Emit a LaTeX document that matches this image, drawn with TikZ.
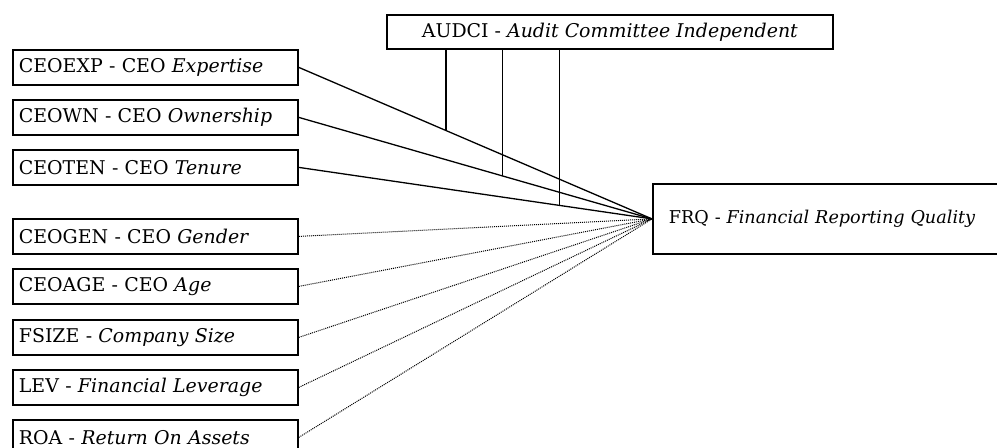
\documentclass[tikz,border=0pt]{standalone}
\usepackage{fontspec}
\setmainfont{DejaVu Serif}
\usetikzlibrary{calc}
\tikzset{
  lbox/.style={draw, line width=1.8bp, rectangle, anchor=north west, minimum width=285bp, minimum height=35bp, text width=273bp, inner xsep=6bp, inner ysep=0bp, align=left, font=\fontsize{19}{22}\selectfont},
  topbox/.style={draw, line width=1.8bp, rectangle, anchor=north west, minimum width=446bp, minimum height=34bp, inner ysep=0bp, align=center, font=\fontsize{19}{22}\selectfont},
  frqbox/.style={draw, line width=1.8bp, rectangle, anchor=north west, minimum width=380bp, minimum height=70bp, text width=348bp, inner xsep=16bp, inner ysep=0bp, align=left, font=\fontsize{17.7}{21}\selectfont},
  solidlink/.style={line width=1.3bp},
  dotlink/.style={line width=1bp, densely dotted},
}
\begin{document}
\begin{tikzpicture}[x=1bp,y=-1bp]
\useasboundingbox (0,0) rectangle (997,448);
\node[topbox] (audci) at (386,14) {AUDCI - \textit{Audit Committee Independent}};
\node[frqbox] (frq) at (652,183) {FRQ - \textit{Financial Reporting Quality}};
\node[lbox] (exp) at (12,49) {CEOEXP - CEO \textit{Expertise}};
\node[lbox] (own) at (12,99) {CEOWN - CEO \textit{Ownership}};
\node[lbox] (ten) at (12,149) {CEOTEN - CEO \textit{Tenure}};
\node[lbox] (gen) at (12,218) {CEOGEN - CEO \textit{Gender}};
\node[lbox] (age) at (12,268) {CEOAGE - CEO \textit{Age}};
\node[lbox] (fsize) at (12,319) {FSIZE - \textit{Company Size}};
\node[lbox] (lev) at (12,369) {LEV - \textit{Financial Leverage}};
\node[lbox] (roa) at (12,419) {ROA - \textit{Return On Assets}};
\draw[solidlink] (exp.east) -- (frq.west);
\draw[solidlink] (own.east) -- (frq.west);
\draw[solidlink] (ten.east) -- (frq.west);
\foreach \n in {gen,age,fsize,lev,roa} \draw[dotlink] (\n.east) -- (frq.west);
\coordinate (m1) at ($(exp.east)!0.4169!(frq.west)$);
\coordinate (m2) at ($(own.east)!0.5775!(frq.west)$);
\coordinate (m3) at ($(ten.east)!0.7380!(frq.west)$);
\draw[solidlink] (m1 |- audci.south) -- (m1);
\draw[solidlink] (m2 |- audci.south) -- (m2);
\draw[solidlink] (m3 |- audci.south) -- (m3);
\end{tikzpicture}
\end{document}
